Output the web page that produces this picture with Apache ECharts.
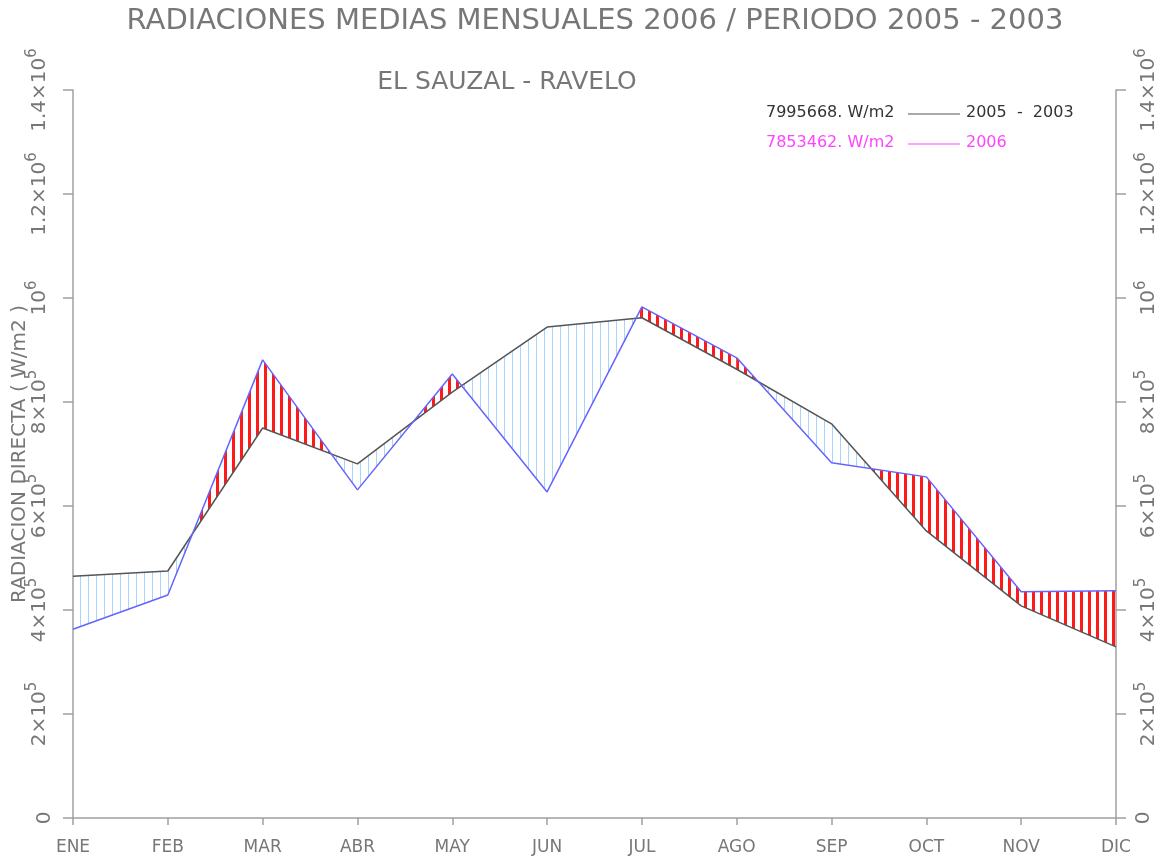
<!DOCTYPE html>
<html>
<head>
<meta charset="utf-8">
<title>Radiaciones medias mensuales</title>
<script src="https://cdn.jsdelivr.net/npm/echarts@6/dist/echarts.min.js"></script>
<style>
    html, body { margin: 0; padding: 0; background: #fff; }
    #grafico { width: 1156px; height: 861px; }
</style>
</head>
<body>
<div id="grafico"></div>
<script>
// Datos
const meses = ['ENE', 'FEB', 'MAR', 'ABR', 'MAY', 'JUN', 'JUL', 'AGO', 'SEP', 'OCT', 'NOV', 'DIC'];
const media0503 = [465000, 475000, 750000, 681000, 819000, 944000, 962000, 863000, 758000, 552000, 408000, 329000];
const rad2006 = [363000, 429000, 881000, 631000, 854000, 627000, 983000, 885000, 683000, 656000, 435000, 437000];
const etiquetasY = ['0', '2×10{sup|5}', '4×10{sup|5}', '6×10{sup|5}', '8×10{sup|5}', '10{sup|6}', '1.2×10{sup|6}', '1.4×10{sup|6}'];
const totales = ['7995668. W/m2', '7853462. W/m2'];
const nombres = ['2005  -  2003', '2006'];

const fuente = 'DejaVu Sans';
const gris = '#777';

// Rayado vertical para rellenar entre curvas
function rayado(color, ancho) {
    const c = document.createElement('canvas');
    c.width = 8;
    c.height = 8;
    const ctx = c.getContext('2d');
    ctx.fillStyle = color;
    ctx.fillRect(0, 0, ancho, 8);
    return { image: c, repeat: 'repeat' };
}
const rojo = rayado('#ff1a1a', 3);
const celeste = rayado('#a9d3ff', 1);

function rellenoEntre(params, api) {
    const i = params.dataIndex;
    if (i >= meses.length - 1) return;
    const a0 = api.coord([i, media0503[i]]);
    const b0 = api.coord([i, rad2006[i]]);
    const a1 = api.coord([i + 1, media0503[i + 1]]);
    const b1 = api.coord([i + 1, rad2006[i + 1]]);
    const d0 = rad2006[i] - media0503[i];
    const d1 = rad2006[i + 1] - media0503[i + 1];
    const relleno = d => (d > 0 ? rojo : celeste);
    const hijos = [];
    if (d0 * d1 >= 0) {
        hijos.push({ type: 'polygon', shape: { points: [a0, b0, b1, a1] }, style: { fill: relleno(d0 || d1) } });
    } else {
        // cruce de las dos curvas dentro del tramo
        const t = d0 / (d0 - d1);
        const p = [a0[0] + t * (a1[0] - a0[0]), a0[1] + t * (a1[1] - a0[1])];
        hijos.push({ type: 'polygon', shape: { points: [a0, b0, p] }, style: { fill: relleno(d0) } });
        hijos.push({ type: 'polygon', shape: { points: [p, b1, a1] }, style: { fill: relleno(d1) } });
    }
    return { type: 'group', children: hijos };
}

function ejeY(posicion, conNombre) {
    return {
        type: 'value',
        position: posicion,
        min: 0,
        max: 1400000,
        interval: 200000,
        name: conNombre ? 'RADIACION DIRECTA ( W/m2 )' : '',
        nameLocation: 'middle',
        nameGap: 43,
        nameMoveOverlap: false,
        nameRotate: 90,
        nameTextStyle: { fontFamily: fuente, fontSize: 20, color: gris },
        axisLine: { show: true, lineStyle: { color: '#a0a0a0', width: 1.5 } },
        axisTick: { show: true, length: 10, lineStyle: { color: '#a0a0a0', width: 1.5 } },
        splitLine: { show: false },
        axisLabel: {
            rotate: 90,
            margin: 18,
            fontFamily: fuente,
            fontSize: 20,
            color: gris,
            formatter: v => etiquetasY[Math.round(v / 200000)],
            rich: {
                sup: { fontFamily: fuente, fontSize: 15, color: gris, verticalAlign: 'top', lineHeight: 30 }
            }
        }
    };
}

const chart = echarts.init(document.getElementById('grafico'));

const option = {
    backgroundColor: '#fff',
    animation: false,
    grid: { left: 73, right: 40, top: 90, bottom: 43, outerBoundsMode: 'none' },
    xAxis: {
        type: 'category',
        data: meses,
        boundaryGap: false,
        axisLine: { lineStyle: { color: '#a0a0a0', width: 1.5 } },
        axisTick: { show: true, length: 7, lineStyle: { color: '#a0a0a0', width: 1.5 } },
        axisLabel: { fontFamily: fuente, fontSize: 17, color: gris, margin: 21 },
        splitLine: { show: false }
    },
    yAxis: [ejeY('left', true), ejeY('right', false)],
    graphic: [
        {
            type: 'text', x: 595, y: 21,
            style: { text: 'RADIACIONES MEDIAS MENSUALES 2006 / PERIODO 2005 - 2003', font: '29px "DejaVu Sans"', fill: gris, textAlign: 'center', textVerticalAlign: 'middle' }
        },
        {
            type: 'text', x: 507, y: 82,
            style: { text: 'EL SAUZAL - RAVELO', font: '25px "DejaVu Sans"', fill: gris, textAlign: 'center', textVerticalAlign: 'middle' }
        },
        {
            type: 'text', x: 766, y: 113,
            style: { text: totales[0], font: '16px "DejaVu Sans"', fill: '#333', textVerticalAlign: 'middle' }
        },
        { type: 'line', shape: { x1: 908, y1: 114, x2: 960, y2: 114 }, style: { stroke: '#555', lineWidth: 1 } },
        {
            type: 'text', x: 966, y: 113,
            style: { text: nombres[0], font: '16px "DejaVu Sans"', fill: '#333', textVerticalAlign: 'middle' }
        },
        {
            type: 'text', x: 766, y: 143,
            style: { text: totales[1], font: '16px "DejaVu Sans"', fill: '#ff44ff', textVerticalAlign: 'middle' }
        },
        { type: 'line', shape: { x1: 908, y1: 144, x2: 960, y2: 144 }, style: { stroke: '#ff44ff', lineWidth: 1 } },
        {
            type: 'text', x: 966, y: 143,
            style: { text: nombres[1], font: '16px "DejaVu Sans"', fill: '#ff44ff', textVerticalAlign: 'middle' }
        }
    ],
    series: [
        {
            name: 'relleno',
            type: 'custom',
            renderItem: rellenoEntre,
            data: meses.map((m, i) => [i, media0503[i], rad2006[i]]),
            encode: { x: 0, y: [1, 2] },
            z: 1,
            silent: true
        },
        {
            name: '2005 - 2003',
            type: 'line',
            data: media0503,
            showSymbol: false,
            lineStyle: { color: '#555', width: 1.5 },
            z: 3
        },
        {
            name: '2006',
            type: 'line',
            data: rad2006,
            showSymbol: false,
            lineStyle: { color: '#6464ff', width: 1.5 },
            z: 4
        }
    ]
};

chart.setOption(option);

window.addEventListener('resize', function () {
    chart.resize();
});
</script>
</body>
</html>
